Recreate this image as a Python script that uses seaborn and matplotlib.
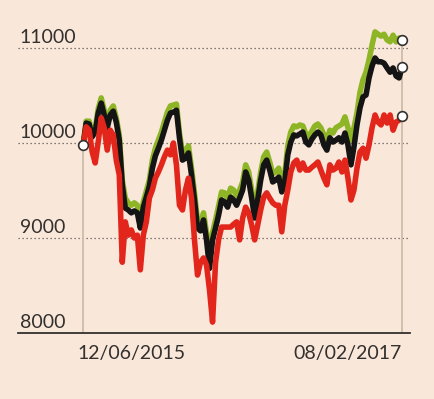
import numpy as np
import pandas as pd
import matplotlib
matplotlib.use('Agg')
import matplotlib.pyplot as plt
import matplotlib.transforms as mtransforms
import seaborn as sns

sns.set_style('white')
plt.rcParams['font.family'] = ['Lato', 'DejaVu Sans']

# Data (rebased index, three series)
start_date = '2015-06-12'
end_date = '2017-02-08'

black_values = [
    9980, 10210, 10200, 10065, 10115, 10315, 10420, 10295, 10160, 10295,
    10335, 10220, 10030, 9560, 9315, 9295, 9265, 9285, 9265, 9105,
    9325, 9430, 9545, 9735, 9865, 9945, 10030, 10135, 10240, 10315,
    10325, 10345, 10055, 9820, 9840, 9895, 9665, 9400, 9105, 9075,
    9190, 8980, 8680, 8980, 9105, 9240, 9400, 9380, 9325, 9430,
    9400, 9345, 9420, 9505, 9695, 9610, 9420, 9210, 9400, 9610,
    9770, 9820, 9715, 9590, 9610, 9640, 9485, 9590, 9875, 10010,
    10085, 10075, 10095, 10115, 10010, 9980, 10040, 10085, 10115, 10085,
    9980, 9925, 10055, 10010, 10030, 10055, 10010, 10105, 9980, 9770,
    9960, 10190, 10370, 10485, 10505, 10685, 10810, 10895, 10855, 10855,
    10840, 10790, 10745, 10790, 10705, 10685, 10800,
]
green_values = [
    9980, 10230, 10230, 10095, 10145, 10360, 10475, 10345, 10200, 10345,
    10390, 10265, 10085, 9610, 9420, 9370, 9345, 9370, 9345, 9170,
    9380, 9495, 9610, 9820, 9945, 10030, 10115, 10220, 10325, 10390,
    10400, 10410, 10105, 9895, 9925, 9970, 9735, 9475, 9180, 9145,
    9265, 9055, 8790, 9055, 9190, 9335, 9485, 9475, 9420, 9525,
    9505, 9440, 9505, 9590, 9770, 9695, 9505, 9295, 9485, 9695,
    9855, 9905, 9800, 9675, 9695, 9735, 9570, 9675, 9970, 10115,
    10180, 10170, 10190, 10180, 10095, 10065, 10125, 10180, 10200, 10160,
    10085, 10030, 10135, 10105, 10160, 10180, 10200, 10275, 10160, 10030,
    10160, 10315, 10535, 10665, 10745, 10875, 11030, 11170, 11145, 11125,
    11145, 11085, 11065, 11135, 11065, 11105, 11085,
]
red_values = [
    9980, 10170, 10135, 9905, 9790, 10010, 10265, 10160, 9925, 10135,
    10085, 9820, 9665, 8745, 9170, 9030, 9085, 9000, 9030, 8665,
    9030, 9170, 9420, 9505, 9630, 9695, 9770, 9855, 9925, 9875,
    10000, 9770, 9345, 9295, 9505, 9630, 9420, 8980, 8610, 8745,
    8790, 8715, 8450, 8115, 8745, 8980, 9115, 9115, 9115, 9115,
    9145, 9170, 8980, 9210, 9325, 9265, 9135, 8980, 9135, 9295,
    9430, 9475, 9420, 9370, 9345, 9345, 9065, 9345, 9505, 9695,
    9790, 9820, 9715, 9790, 9715, 9715, 9745, 9770, 9800, 9715,
    9630, 9560, 9770, 9715, 9735, 9800, 9695, 9820, 9630, 9400,
    9505, 9735, 9905, 9945, 9840, 9980, 10160, 10295, 10220, 10190,
    10295, 10210, 10295, 10135, 10220, 10240, 10285,
]

series_names = ['green', 'black', 'red']
series_colors = {'green': '#8db526', 'black': '#141414', 'red': '#e2261c'}
y_ticks = [8000, 9000, 10000, 11000]
x_tick_labels = ['12/06/2015', '08/02/2017']

bg = '#f9e8da'
text_color = '#33302e'

dates = pd.date_range(start_date, end_date, periods=len(black_values))
df = pd.DataFrame({
    'date': np.tile(dates, 3),
    'value': green_values + black_values + red_values,
    'series': np.repeat(series_names, len(dates)),
})

fig = plt.figure(figsize=(4.35, 3.99), dpi=100, facecolor=bg)
ax = fig.add_axes([18 / 435, 1 - 333 / 399, 392 / 435, 313.5 / 399])
ax.set_facecolor(bg)

# start / end guide lines
last_vals = [green_values[-1], black_values[-1], red_values[-1]]
ax.vlines(dates[0], 8000, black_values[0], color='#cdbca9', lw=1.3, zorder=1)
ax.vlines(dates[-1], 8000, max(last_vals), color='#cdbca9', lw=1.3, zorder=1)

# dotted gridlines
for v in y_ticks[1:]:
    ax.axhline(v, color='#5a5550', lw=0.9, ls=(0, (1, 2.2)), zorder=0)

sns.lineplot(data=df, x='date', y='value', hue='series', hue_order=series_names,
             palette=series_colors, linewidth=4.0, legend=False, ax=ax,
             solid_joinstyle='round', solid_capstyle='round', zorder=3)

# hollow circle markers at start and ends
ax.plot([dates[0]], [black_values[0]], 'o', ms=7, mfc='white', mec=text_color,
        mew=1.2, zorder=6)
ax.plot([dates[-1]] * 3, last_vals, 'o', ms=7, mfc='white', mec=text_color,
        mew=1.2, zorder=6, ls='none')

ax.set_ylim(8000, 11300)
ax.set_xlim(dates[0] - pd.Timedelta(days=124), dates[-1] + pd.Timedelta(days=15))

for s in ['top', 'right', 'left']:
    ax.spines[s].set_visible(False)
ax.spines['bottom'].set_color(text_color)
ax.spines['bottom'].set_linewidth(1.3)

ax.set_yticks([])
trans = mtransforms.blended_transform_factory(ax.transAxes, ax.transData)
for v in y_ticks:
    ax.text(0.005, v + 25, f'{v}', transform=trans, ha='left', va='bottom',
            fontsize=14, color=text_color)

ax.set_xticks([dates[0], dates[-1]])
ax.set_xticklabels(x_tick_labels, fontsize=14, color=text_color)
ax.tick_params(axis='x', length=0, pad=9)
labels = ax.get_xticklabels()
labels[0].set_ha('left')
labels[0].set_transform(labels[0].get_transform() +
                        mtransforms.ScaledTranslation(-6 / 100, 0, fig.dpi_scale_trans))
labels[1].set_ha('right')
ax.set_xlabel('')
ax.set_ylabel('')

fig.savefig('out.png', dpi=100, facecolor=bg)
